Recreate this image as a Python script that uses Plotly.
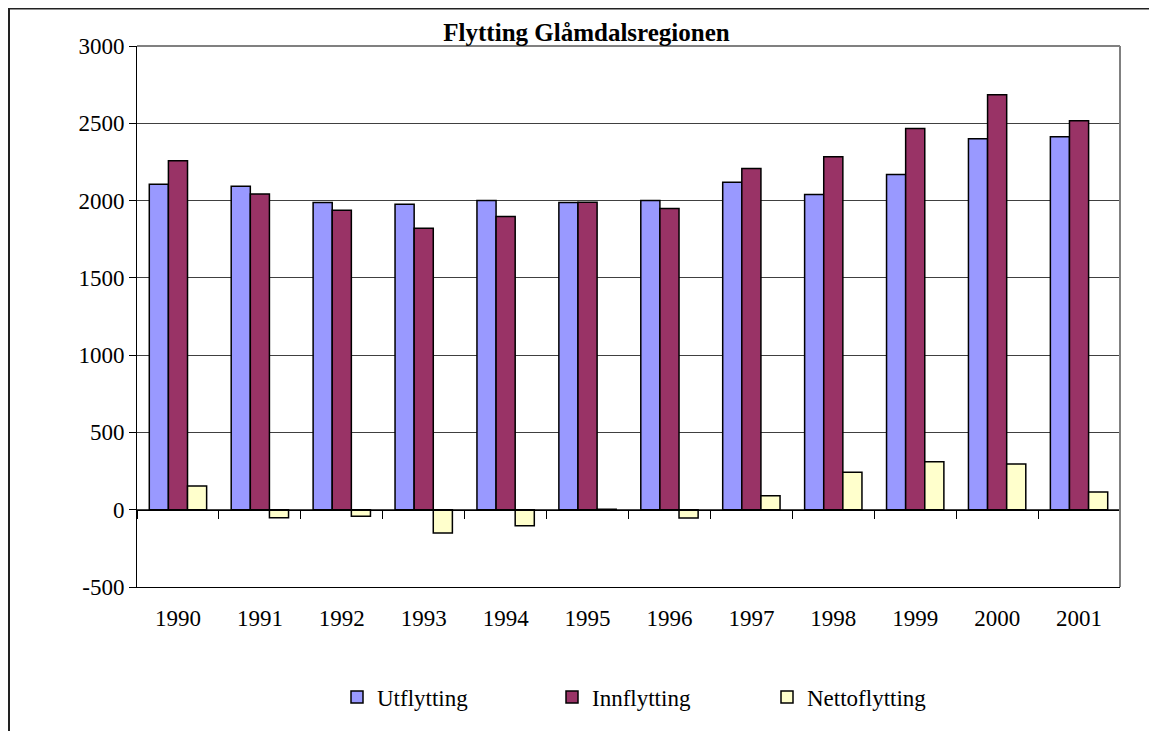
import plotly.graph_objects as go

years = ["1990", "1991", "1992", "1993", "1994", "1995", "1996", "1997", "1998", "1999", "2000", "2001"]
utflytting = [2105, 2092, 1987, 1976, 2000, 1987, 2000, 2118, 2039, 2168, 2400, 2413]
innflytting = [2258, 2043, 1937, 1821, 1897, 1989, 1948, 2207, 2284, 2467, 2684, 2517]
nettoflytting = [153, -52, -42, -150, -104, 3, -54, 90, 243, 310, 295, 114]

y_ticks = [-500, 0, 500, 1000, 1500, 2000, 2500, 3000]
y_tick_text = ["-500", "0", "500", "1000", "1500", "2000", "2500", "3000"]
title_text = "Flytting Glåmdalsregionen"

FONT = "Liberation Serif, Times New Roman, serif"
# the page body has an 8px margin, so figure pixel coords = screen coords - 8
W, H = 1157, 731
L, T = 129, 38
PR, PB = 1112, 579  # plot right / bottom in figure pixels
R, B = W - PR, H - PB
PW, PH = PR - L, PB - T
ymin, ymax = -500, 3000

fig = go.Figure()
bar_line = dict(color="black", width=1.5)
fig.add_trace(go.Bar(x=years, y=utflytting, name="Utflytting",
                     marker=dict(color="#9999FF", line=bar_line)))
fig.add_trace(go.Bar(x=years, y=innflytting, name="Innflytting",
                     marker=dict(color="#993366", line=bar_line)))
fig.add_trace(go.Bar(x=years, y=nettoflytting, name="Nettoflytting",
                     marker=dict(color="#FFFFCC", line=bar_line)))

# invisible helper trace for the category tick axis drawn at y=0
n = len(years)
fig.add_trace(go.Scatter(x=[-0.5, n - 0.5], y=[0, 0], xaxis="x2", mode="none",
                         showlegend=False, hoverinfo="skip"))

zero_pos = (0 - ymin) / (ymax - ymin)

fig.update_layout(
    width=W, height=H,
    margin=dict(l=L, r=R, t=T, b=B),
    paper_bgcolor="white", plot_bgcolor="white",
    font=dict(family=FONT, size=22, color="black"),
    title=dict(text="<b>" + title_text + "</b>", x=0.5, xref="container",
               xanchor="center", y=1 - 24 / H, yanchor="middle", yref="container",
               font=dict(family=FONT, size=25, color="black")),
    barmode="group", bargap=0.3, bargroupgap=0.0,
    showlegend=True,
    legend=dict(orientation="h", x=(329 - L) / PW, xanchor="left",
                y=(PB - 689) / PH, yanchor="middle",
                font=dict(family=FONT, size=23, color="black"),
                entrywidth=170, entrywidthmode="pixels",
                bgcolor="rgba(0,0,0,0)", traceorder="normal"),
    xaxis=dict(type="category", range=[-0.5, n - 0.5], showgrid=False,
               showline=True, linecolor="black", linewidth=1,
               ticks="", ticklabelstandoff=10,
               tickfont=dict(family=FONT, size=23, color="black"),
               zeroline=False, fixedrange=True),
    xaxis2=dict(type="linear", overlaying="x", anchor="free", position=zero_pos,
                range=[-0.5, n - 0.5], side="bottom",
                tickvals=[i - 0.5 for i in range(n + 1)],
                ticks="outside", ticklen=8, tickwidth=1, tickcolor="black",
                showticklabels=False, showgrid=False, showline=True,
                linecolor="black", linewidth=1, zeroline=False),
    yaxis=dict(range=[ymin, ymax], tickvals=y_ticks, ticktext=y_tick_text,
               showgrid=True, gridcolor="#404040", gridwidth=1,
               showline=True, linecolor="black", linewidth=1,
               ticks="outside", ticklen=7, tickcolor="black",
               tickfont=dict(family=FONT, size=23, color="black"),
               zeroline=False, fixedrange=True),
    shapes=[
        # plot area border (top and right, grey)
        dict(type="line", xref="paper", yref="paper", x0=0, x1=1, y0=1, y1=1,
             line=dict(color="#808080", width=2)),
        dict(type="line", xref="paper", yref="paper", x0=1, x1=1, y0=0, y1=1,
             line=dict(color="#808080", width=2)),
        # chart area outer border (left and top at figure edge)
        dict(type="rect", xref="paper", yref="paper",
             x0=(1 - L) / PW, x1=1.2,
             y0=-0.4, y1=(PB - 0.5) / PH,
             line=dict(color="#222222", width=2), fillcolor="rgba(0,0,0,0)"),
    ],
)

fig.write_html("out.html")
